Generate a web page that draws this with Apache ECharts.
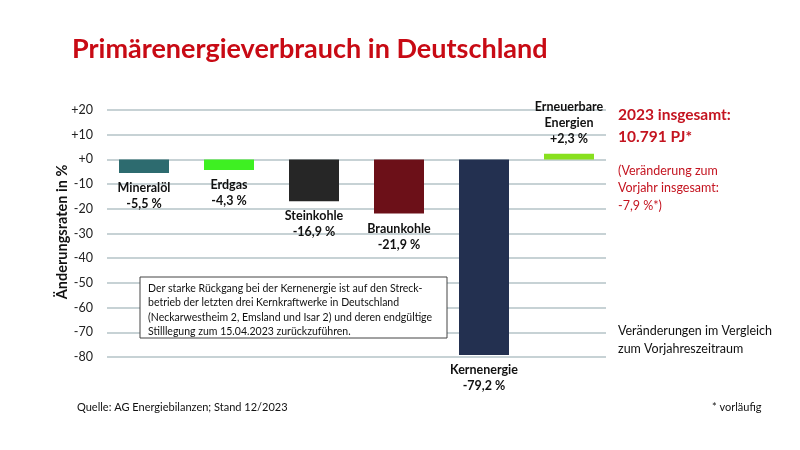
<!DOCTYPE html>
<html><head><meta charset="utf-8">
<script src="https://cdn.jsdelivr.net/npm/echarts@6/dist/echarts.min.js"></script>
<style>html,body{margin:0;padding:0;background:#fff}#c{width:800px;height:450px}</style>
</head><body><div id="c"></div>
<script>
const categories = ['Mineralöl', 'Erdgas', 'Steinkohle', 'Braunkohle', 'Kernenergie', 'Erneuerbare\nEnergien'];
const values = [-5.5, -4.3, -16.9, -21.9, -79.2, 2.3];
const barColors = ['#2d6b6f', '#3ef022', '#262626', '#6c1018', '#233050', '#88e01e'];
const yTicks = [20, 10, 0, -10, -20, -30, -40, -50, -60, -70, -80];

const F = 'Lato, "Open Sans", sans-serif';
const chart = echarts.init(document.getElementById('c'));
const fmt = v => (v > 0 ? '+' : '') + String(v).replace('.', ',') + ' %';

chart.setOption({
  animation: false,
  backgroundColor: '#fff',
  textStyle: { fontFamily: F },
  grid: [
    { left: 101.5, width: 510, top: 110, height: 247 },
    { left: 107, width: 499, top: 110, height: 247 }
  ],
  xAxis: [
    { type: 'category', gridIndex: 0, data: categories, show: false },
    { type: 'category', gridIndex: 1, data: [''], show: false }
  ],
  yAxis: [
    { type: 'value', gridIndex: 0, min: -80, max: 20, interval: 10, show: false },
    { type: 'value', gridIndex: 1, min: -80, max: 20, interval: 10,
      axisLine: { show: false }, axisTick: { show: false },
      axisLabel: { margin: 14, fontSize: 12.5, color: '#222', fontFamily: F,
        formatter: v => (v >= 0 ? '+' + v : String(v)) },
      splitLine: { lineStyle: { color: '#b5c3c7', width: 1.5 } } }
  ],
  series: [{
    type: 'bar', xAxisIndex: 0, yAxisIndex: 0,
    barWidth: 50,
    data: values.map((v, i) => ({
      value: v,
      itemStyle: { color: barColors[i] },
      label: { position: v >= 0 ? 'top' : 'bottom' }
    })),
    label: {
      show: true, distance: 7, fontFamily: F, fontWeight: 'bold', fontSize: 12.5,
      lineHeight: 16, color: '#111', align: 'center',
      formatter: p => p.name + '\n' + fmt(p.value)
    }
  }],
  graphic: [
    { type: 'text', x: 72, y: 36, style: { text: 'Primärenergieverbrauch in Deutschland', fill: '#c80a14', font: 'bold 27px ' + F } },
    { type: 'text', x: 62, y: 232, rotation: Math.PI / 2, style: { text: 'Änderungsraten in %', fill: '#111', font: 'bold 14.5px ' + F, align: 'center', verticalAlign: 'middle' } },
    { type: 'text', x: 618, y: 104, style: { text: '2023 insgesamt:\n10.791 PJ*', fill: '#c41420', font: 'bold 15.5px ' + F, lineHeight: 22 } },
    { type: 'text', x: 618, y: 162, style: { text: '(Veränderung zum\nVorjahr insgesamt:\n-7,9 %*)', fill: '#c41420', font: '12.5px ' + F, lineHeight: 17.5 } },
    { type: 'text', x: 618, y: 322, style: { text: 'Veränderungen im Vergleich\nzum Vorjahreszeitraum', fill: '#111', font: '12.5px ' + F, lineHeight: 18 } },
    { type: 'text', x: 712, y: 402, style: { text: '* vorläufig', fill: '#111', font: '11px ' + F } },
    { type: 'text', x: 77, y: 402, style: { text: 'Quelle: AG Energiebilanzen; Stand 12/2023', fill: '#111', font: '11px ' + F } },
    { type: 'rect', shape: { x: 140, y: 277, width: 307, height: 61 }, style: { fill: '#fff', stroke: '#444', lineWidth: 1 }, z: 100 },
    { type: 'text', x: 148, y: 281, z: 101, style: { text: 'Der starke Rückgang bei der Kernenergie ist auf den Streck-\nbetrieb der letzten drei Kernkraftwerke in Deutschland\n(Neckarwestheim 2, Emsland und Isar 2) und deren endgültige\nStilllegung zum 15.04.2023 zurückzuführen.', fill: '#111', font: '10.5px ' + F, lineHeight: 14.5 } }
  ]
});
</script></body></html>
